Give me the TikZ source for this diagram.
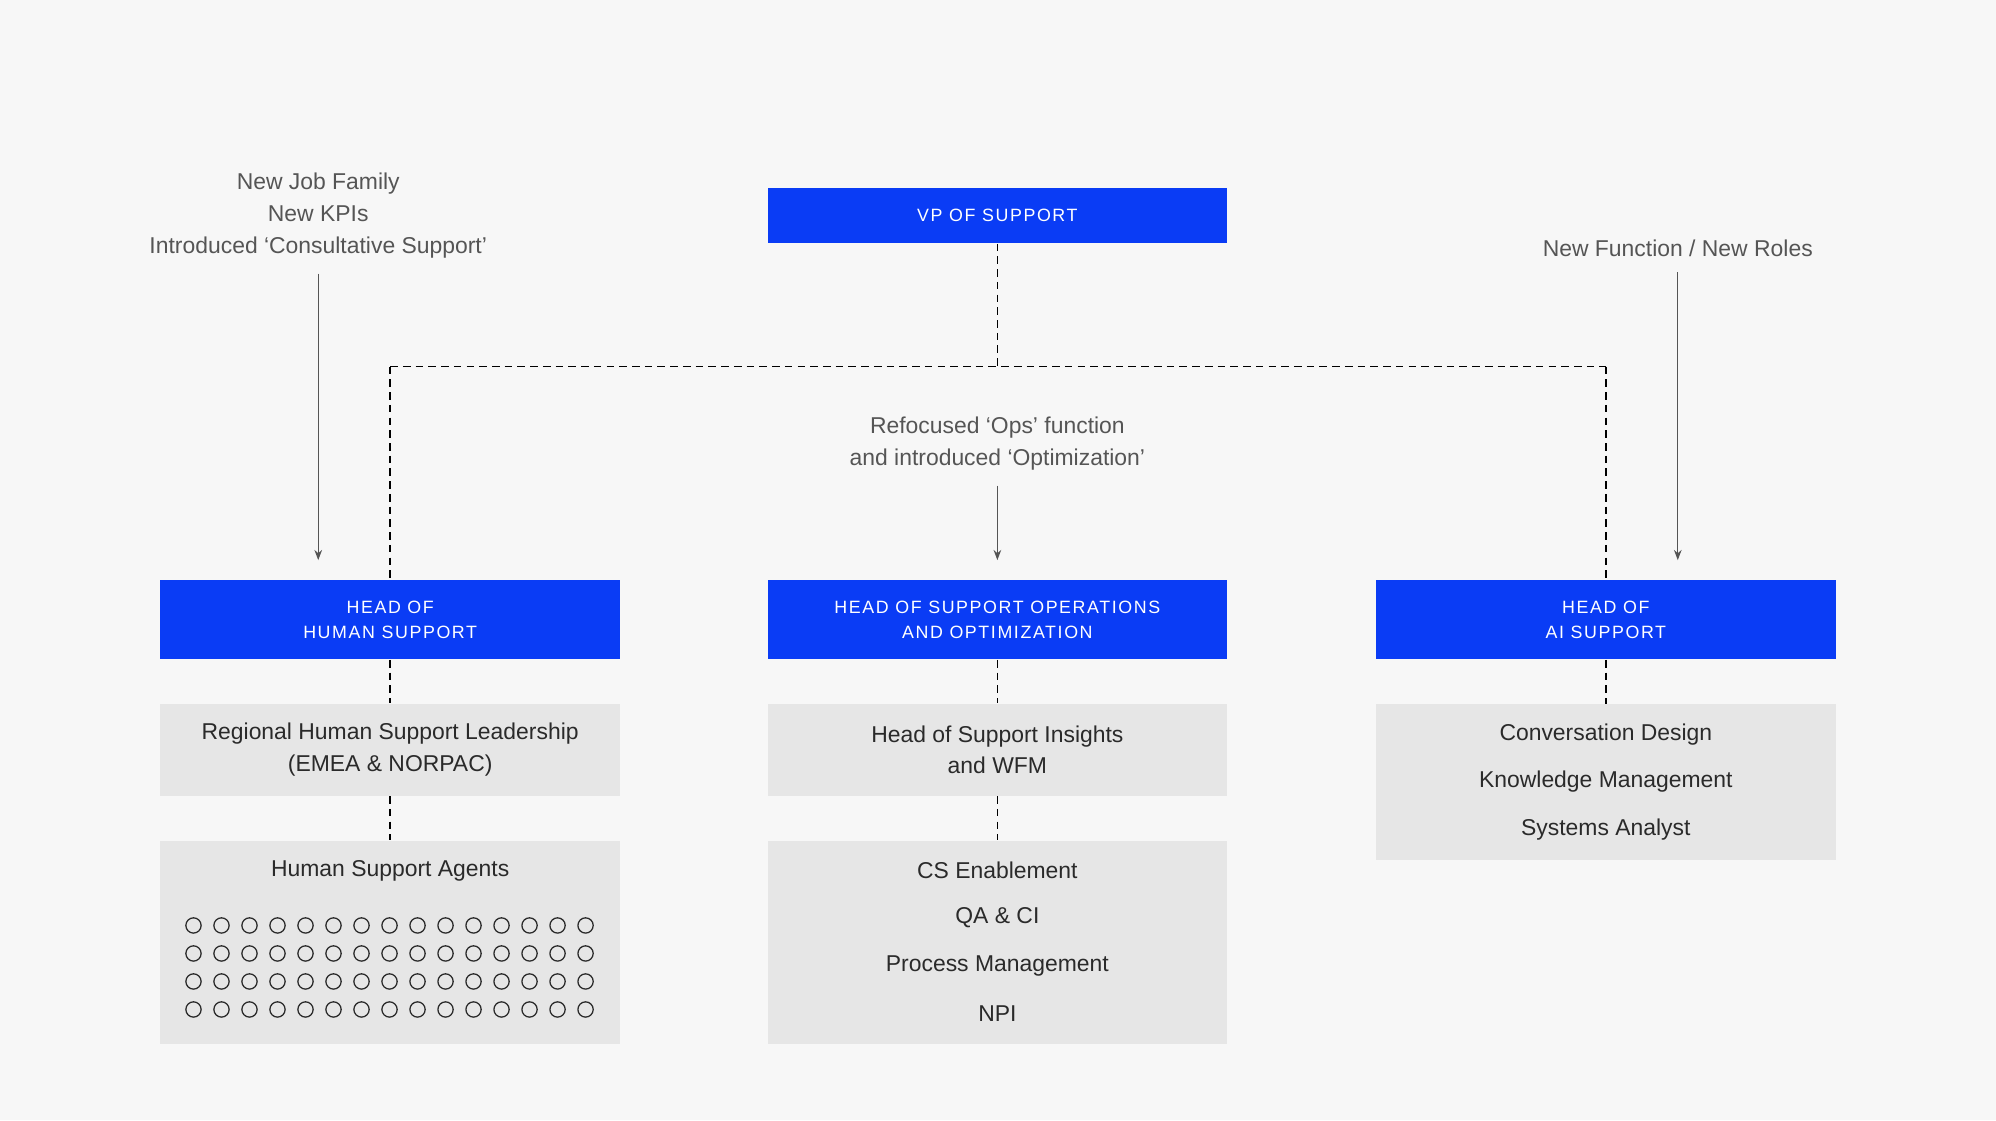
\documentclass[tikz,border=0pt]{standalone}
\usepackage{fontspec}
\setmainfont{Liberation Sans}
\newfontfamily\capsfont[LetterSpace=9]{Liberation Sans}
\usetikzlibrary{arrows.meta}
\definecolor{bg}{HTML}{F7F7F7}
\definecolor{blu}{HTML}{0A3CF5}
\definecolor{gr}{HTML}{E6E6E6}
\definecolor{txt}{HTML}{2A2A2A}
\definecolor{note}{HTML}{555555}
\begin{document}
\begin{tikzpicture}[x=0.5pt,y=-0.5pt,
  head/.style={fill=blu,text=white,minimum width=180.5pt,align=center,inner sep=0pt,font=\capsfont\fontsize{7}{10}\selectfont},
  box/.style={fill=gr,text=txt,minimum width=180.5pt,align=center,inner sep=0pt,font=\fontsize{9}{12.5}\selectfont},
  notetxt/.style={text=note,align=center,font=\fontsize{9}{12.5}\selectfont},
  dsh/.style={densely dashed,line width=0.6pt,black},
  arr/.style={-{Stealth[length=4pt,width=3pt]},line width=0.5pt,note}]
\fill[bg] (0,0) rectangle (1568,880);
\useasboundingbox (0,0) rectangle (1568,880);
\node[head,minimum height=21.5pt] (vp) at (783.5,169.5) {VP OF SUPPORT};
\node[head,minimum height=31pt] (h1) at (306.5,487) {HEAD OF\\HUMAN SUPPORT};
\node[head,minimum height=31pt] (h2) at (783.5,487) {HEAD OF SUPPORT OPERATIONS\\AND OPTIMIZATION};
\node[head,minimum height=31pt] (h3) at (1261.5,487) {HEAD OF\\AI SUPPORT};
\node[box,minimum height=36pt] (a1) at (306.5,589) {Regional Human Support Leadership\\(EMEA \& NORPAC)};
\node[box,minimum height=80pt,anchor=north] (a2) at (306.5,660) {};
\node[box,anchor=center] (a2t) at (306.5,684) {Human Support Agents};
\node[box,minimum height=36pt] (b1) at (783.5,589) {Head of Support Insights\\and WFM};
\node[box,minimum height=80pt,anchor=north] (b2) at (783.5,660) {};
\node[box] (b2a) at (783.5,684) {CS Enablement};
\node[box] (b2b) at (783.5,721) {QA \& CI};
\node[box] (b2c) at (783.5,759) {Process Management};
\node[box] (b2d) at (783.5,796) {NPI};
\node[box,minimum height=61pt,anchor=north] (c1) at (1261.5,553) {};
\node[box] (c1a) at (1261.5,577) {Conversation Design};
\node[box] (c1b) at (1261.5,614) {Knowledge Management};
\node[box] (c1c) at (1261.5,652) {Systems Analyst};
\foreach \r in {0,...,3}{\foreach \c in {0,...,14}{
  \draw[line width=0.5pt,txt] (152+22*\c,727+22*\r) circle (6);}}
\coordinate (j) at (783.5,288);
\coordinate (jl) at (306.5,288);
\coordinate (jr) at (1261.5,288);
\draw[dsh] (vp.south) -- (j);
\draw[dsh] (jl) -- (jr);
\draw[dsh] (jl) -- (h1.north);
\draw[dsh] (jr) -- (h3.north);
\draw[dsh] (h1.south) -- (a1.north);
\draw[dsh] (a1.south) -- (a2.north);
\draw[dsh] (h2.south) -- (b1.north);
\draw[dsh] (b1.south) -- (b2.north);
\draw[dsh] (h3.south) -- (c1.north);
\node[notetxt] (n1) at (250,169.5) {New Job Family\\New KPIs\\Introduced ‘Consultative Support’};
\node[notetxt] (n2) at (783.5,348.5) {Refocused ‘Ops’ function\\and introduced ‘Optimization’};
\node[notetxt] (n3) at (1318,195) {New Function / New Roles};
\coordinate (e1) at (250,440);
\coordinate (e2) at (783.5,440);
\coordinate (e3) at (1318,440);
\draw[arr] (n1.south) ++(0,5) -- (e1);
\draw[arr] (n2.south) ++(0,5) -- (e2);
\draw[arr] (n3.south) ++(0,5) -- (e3);
\end{tikzpicture}
\end{document}
